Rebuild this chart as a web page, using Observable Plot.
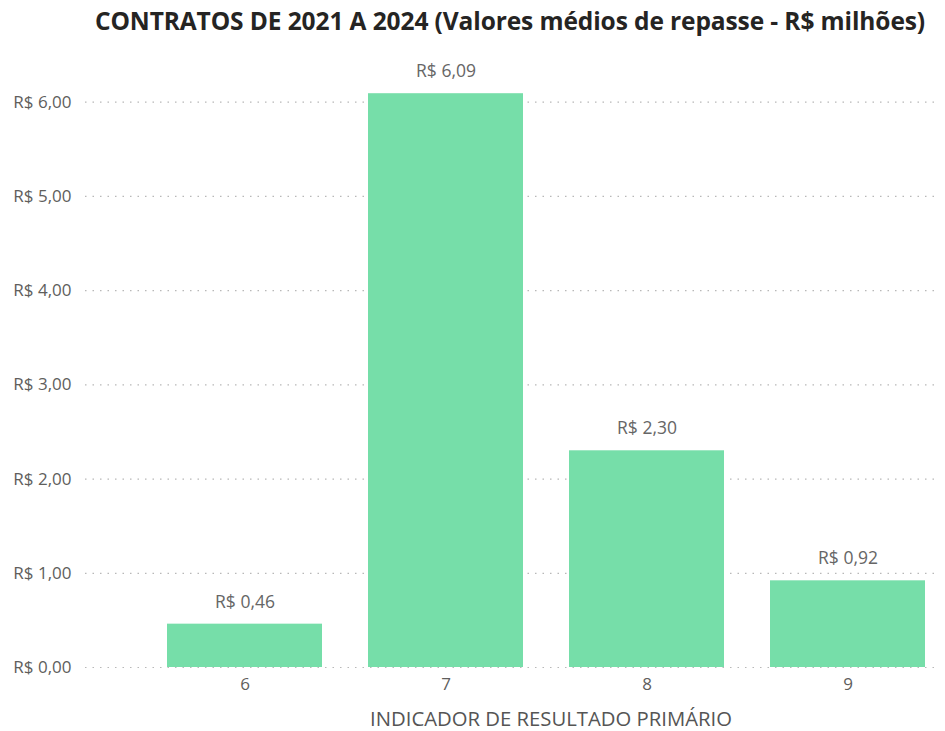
<!DOCTYPE html>
<html>
<head>
<meta charset="utf-8">
<script src="https://cdn.jsdelivr.net/npm/d3@7"></script>
<script src="https://cdn.jsdelivr.net/npm/@observablehq/plot@0.6"></script>
<style>
  body { margin: 0; background: #fff; font-family: "Open Sans", "Noto Sans", sans-serif; }
  #title { height: 44px; line-height: 42px; text-align: center; font-weight: 700; font-size: 24.5px; color: #252423; padding-left: 75px; white-space: nowrap; letter-spacing: -0.1px; }
  #chart svg { display: block; }
</style>
</head>
<body>
<div id="title">CONTRATOS DE 2021 A 2024 (Valores médios de repasse - R$ milhões)</div>
<div id="chart"></div>
<script>
const categories = ["6", "7", "8", "9"];
const values = [0.46, 6.09, 2.30, 0.92];
const yTicks = [0, 1, 2, 3, 4, 5, 6];
const xTitle = "INDICADOR DE RESULTADO PRIMÁRIO";

const data = categories.map((c, i) => ({ cat: c, value: values[i] }));
const brl = v => "R$ " + v.toFixed(2).replace(".", ",");

const chart = Plot.plot({
  width: 945,
  height: 687,
  marginLeft: 85,
  marginRight: 5,
  marginTop: 20,
  marginBottom: 64,
  style: { fontFamily: "'Open Sans', 'Noto Sans', sans-serif", background: "#fff" },
  x: { domain: categories, paddingInner: 0.23, paddingOuter: 0.24, align: 0.84 },
  y: { domain: [0, 6.4] },
  marks: [
    Plot.ruleY(yTicks, { stroke: "#b8b8b8", strokeDasharray: "1.5,6", strokeWidth: 1.2 }),
    Plot.barY(data, { x: "cat", y: "value", fill: "#76dea9" }),
    Plot.text(data, { x: "cat", y: "value", text: d => brl(d.value), dy: -22, fontSize: 17.5, fill: "#666666" }),
    Plot.axisY(yTicks, { tickSize: 0, tickPadding: 14, tickFormat: brl, fontSize: 17, fill: "#605e5c", label: null }),
    Plot.axisX({ tickSize: 0, tickPadding: 10, fontSize: 17, fill: "#605e5c", label: xTitle, labelAnchor: "center", labelArrow: "none", labelOffset: 58 })
  ]
});
document.getElementById("chart").appendChild(chart);
chart.querySelectorAll("g[aria-label='x-axis label'] text").forEach(t => {
  t.setAttribute("font-size", "20.3");
  t.setAttribute("fill", "#555555");
  t.setAttribute("dx", "38");
});
</script>
</body>
</html>
